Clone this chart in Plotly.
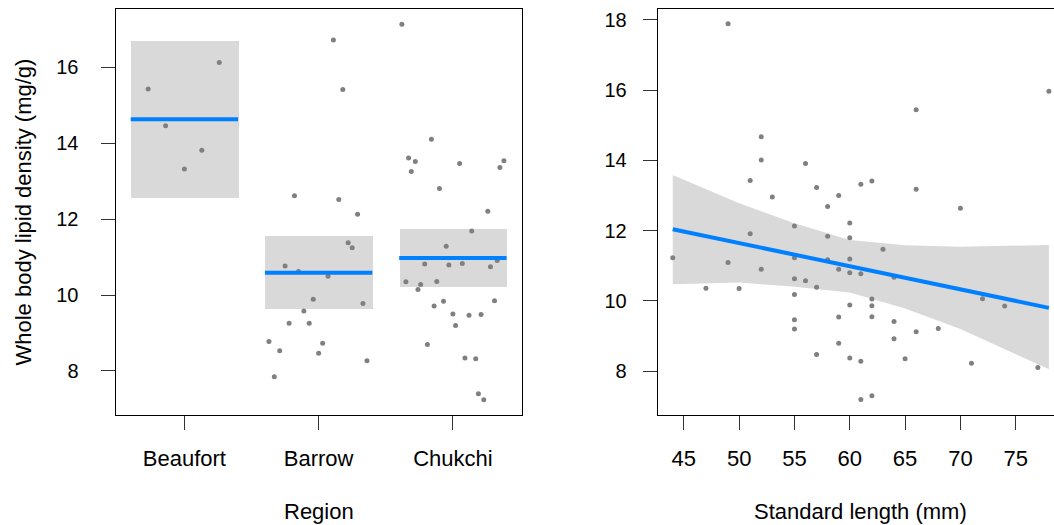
import plotly.graph_objects as go

# ---------------- data ----------------
regions = ["Beaufort", "Barrow", "Chukchi"]

# lipid density (mg/g) per fish, by region, with horizontal jitter (category units)
beaufort_lipid = [15.43, 16.13, 14.46, 13.82, 13.32]
beaufort_jitter = [-0.27, 0.26, -0.14, 0.13, 0.00]

barrow_lipid = [16.72, 15.42, 12.62, 12.52, 12.13, 11.38, 11.25, 10.77, 10.62, 10.50,
                9.89, 9.78, 9.58, 9.26, 9.26, 8.78, 8.73, 8.53, 8.47, 8.27, 7.85]
barrow_jitter = [0.11, 0.18, -0.18, 0.15, 0.29, 0.22, 0.25, -0.25, -0.15, 0.07,
                 -0.04, 0.33, -0.11, -0.22, -0.07, -0.37, 0.03, -0.29, 0.00, 0.36, -0.33]

chukchi_lipid = [17.14, 14.11, 13.61, 13.52, 13.26, 13.47, 13.54, 13.36, 12.81, 12.21,
                 11.69, 11.29, 10.82, 10.79, 10.83, 10.91, 10.75, 10.35, 10.28, 10.15,
                 10.36, 9.71, 9.84, 9.85, 9.50, 9.47, 9.49, 9.20, 8.70, 8.34,
                 8.32, 7.40, 7.24]
chukchi_jitter = [-0.38, -0.16, -0.33, -0.28, -0.31, 0.05, 0.38, 0.35, -0.10, 0.26,
                  0.14, -0.05, -0.21, -0.03, 0.07, 0.33, 0.28, -0.35, -0.24, -0.26,
                  -0.12, -0.14, -0.07, 0.31, 0.00, 0.12, 0.21, 0.02, -0.19, 0.09,
                  0.17, 0.19, 0.23]

# 95% confidence limits of the region means
region_lower = [12.57, 9.63, 10.21]
region_upper = [16.70, 11.56, 11.74]

# standard length (mm) vs lipid density (mg/g)
length_mm = [49, 52, 52, 56, 51, 57, 59, 53, 58, 60,
             55, 51, 58, 60, 44, 55, 49, 58, 60, 52,
             59, 60, 55, 56, 47, 50, 57, 55, 60, 55,
             55, 59, 59, 57, 60, 78, 66, 61, 62, 66,
             70, 63, 61, 64, 62, 62, 62, 64, 64, 66,
             68, 72, 74, 61, 65, 71, 77, 61, 62]
length_lipid = [17.89, 14.67, 14.01, 13.91, 13.43, 13.23, 13.00, 12.96, 12.69, 12.22,
                12.13, 11.91, 11.84, 11.80, 11.23, 11.23, 11.09, 11.17, 11.19, 10.90,
                10.90, 10.80, 10.63, 10.57, 10.36, 10.35, 10.39, 10.18, 9.88, 9.46,
                9.20, 9.54, 8.79, 8.47, 8.37, 15.97, 15.44, 13.32, 13.41, 13.18,
                12.64, 11.47, 10.77, 10.67, 10.05, 9.86, 9.55, 9.41, 8.92, 9.12,
                9.21, 10.06, 9.85, 8.28, 8.35, 8.22, 8.10, 7.19, 7.30]

# fitted linear trend and its confidence band
fit_ends = [44, 78]
fit_ends_lipid = [12.04, 9.80]
band_length = [44, 50, 55, 60, 65, 70, 78]
band_upper = [13.58, 12.78, 12.21, 11.73, 11.58, 11.54, 11.59]
band_lower = [10.47, 10.52, 10.40, 10.24, 9.78, 9.20, 8.05]

# ---------------- styling ----------------
W, H = 1054, 525
FONT = "Liberation Sans, Arial, Helvetica, sans-serif"
POINT = "#808080"
BLUE = "#0080FF"
BAND = "#D9D9D9"


def px_x(p):
    return p / W


def px_y(p):
    return (H - p) / H


fig = go.Figure()

# ---- left panel: region means ----
group_lipid = [beaufort_lipid, barrow_lipid, chukchi_lipid]
group_jitter = [beaufort_jitter, barrow_jitter, chukchi_jitter]

fig.add_trace(go.Bar(
    x=[1, 2, 3],
    base=region_lower,
    y=[u - l for u, l in zip(region_upper, region_lower)],
    width=0.8,
    marker=dict(color=BAND, line=dict(width=0)),
    xaxis="x", yaxis="y", hoverinfo="skip", showlegend=False,
))

for i, (vals, jit) in enumerate(zip(group_lipid, group_jitter)):
    fig.add_trace(go.Scatter(
        x=[i + 1 + j for j in jit], y=vals, mode="markers",
        marker=dict(color=POINT, size=5, line=dict(width=0)),
        xaxis="x", yaxis="y", showlegend=False,
    ))

for i, vals in enumerate(group_lipid):
    m = sum(vals) / len(vals)
    fig.add_trace(go.Scatter(
        x=[i + 1 - 0.4, i + 1 + 0.4], y=[m, m], mode="lines",
        line=dict(color=BLUE, width=4),
        xaxis="x", yaxis="y", showlegend=False,
    ))

# ---- right panel: length trend ----
fig.add_trace(go.Scatter(
    x=band_length + band_length[::-1],
    y=band_upper + band_lower[::-1],
    fill="toself", fillcolor=BAND, mode="none",
    xaxis="x2", yaxis="y2", hoverinfo="skip", showlegend=False,
))
fig.add_trace(go.Scatter(
    x=length_mm, y=length_lipid, mode="markers",
    marker=dict(color=POINT, size=5, line=dict(width=0)),
    xaxis="x2", yaxis="y2", showlegend=False,
))
fig.add_trace(go.Scatter(
    x=fit_ends, y=fit_ends_lipid, mode="lines",
    line=dict(color=BLUE, width=4),
    xaxis="x2", yaxis="y2", showlegend=False,
))

axis_common = dict(
    showgrid=False, zeroline=False, showline=True, linecolor="black", linewidth=1,
    ticks="outside", ticklen=14, tickwidth=1, tickcolor="#333333",
)
ydom = [px_y(415), px_y(9)]

fig.update_layout(
    width=W, height=H, autosize=False,
    margin=dict(l=0, r=0, t=0, b=0, pad=0),
    paper_bgcolor="white", plot_bgcolor="white",
    font=dict(family=FONT, color="black"),
    bargap=0,
    xaxis=dict(axis_common, domain=[px_x(115.5), px_x(521.5)], range=[0.487, 3.511],
               tickvals=[1, 2, 3], ticktext=regions, mirror=True, anchor="y",
               tickfont=dict(size=22), ticklabelstandoff=10),
    yaxis=dict(axis_common, domain=ydom, range=[6.84, 17.54],
               tickvals=[8, 10, 12, 14, 16], mirror=True, anchor="x",
               tickfont=dict(size=20), ticklabelstandoff=18),
    xaxis2=dict(axis_common, domain=[px_x(657.7), 1.0], range=[42.64, 78.46],
                tickvals=[45, 50, 55, 60, 65, 70, 75], mirror=True, anchor="y2",
                tickfont=dict(size=22), ticklabelstandoff=10),
    yaxis2=dict(axis_common, domain=ydom, range=[6.75, 18.31],
                tickvals=[8, 10, 12, 14, 16, 18], anchor="x2",
                tickfont=dict(size=20), ticklabelstandoff=12),
    annotations=[
        dict(text="Region", x=px_x(318.5), y=px_y(511), xref="paper", yref="paper",
             xanchor="center", yanchor="middle", showarrow=False, font=dict(size=22)),
        dict(text="Standard length (mm)", x=px_x(860.5), y=px_y(511), xref="paper",
             yref="paper", xanchor="center", yanchor="middle", showarrow=False,
             font=dict(size=22)),
        dict(text="Whole body lipid density (mg/g)", x=px_x(22.5), y=px_y(212),
             xref="paper", yref="paper", xanchor="center", yanchor="middle",
             textangle=-90, showarrow=False, font=dict(size=22)),
    ],
)

fig.write_html("out.html")
